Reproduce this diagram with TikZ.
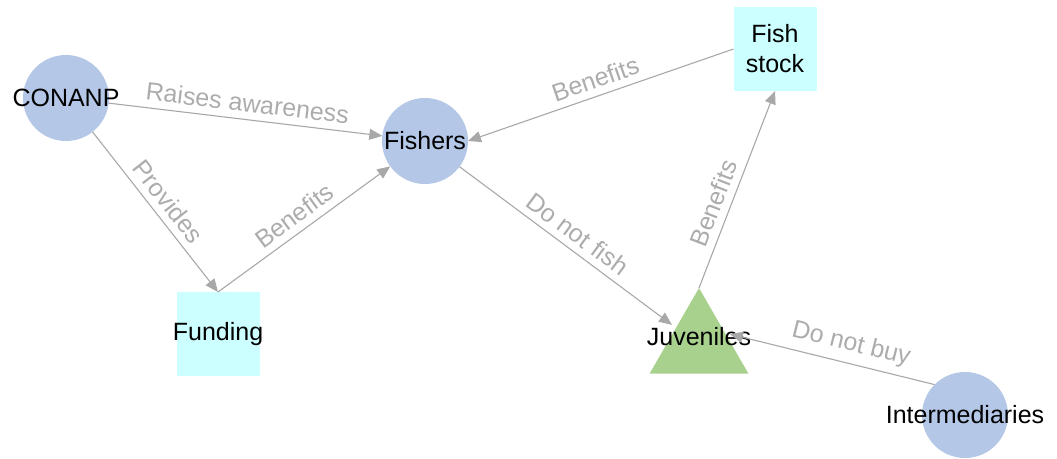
\documentclass[tikz,border=0pt]{standalone}
\usepackage{fontspec}
\setmainfont{Liberation Sans}
\usetikzlibrary{arrows.meta,shapes.geometric}
\definecolor{nodeblue}{RGB}{180,199,231}
\definecolor{boxcyan}{RGB}{204,255,255}
\definecolor{trigreen}{RGB}{169,209,142}
\definecolor{edgegray}{RGB}{168,168,168}
\definecolor{labelgray}{RGB}{172,172,172}
\begin{document}
\begin{tikzpicture}[x=1pt,y=-1pt,
  txt/.style={font=\fontsize{25}{30}\selectfont, text=black, inner sep=0pt, align=center},
  circnode/.style={circle, fill=nodeblue, minimum size=86pt, inner sep=0pt, outer sep=0pt},
  boxnode/.style={rectangle, fill=boxcyan, minimum width=83pt, minimum height=84pt, inner sep=0pt, outer sep=0pt},
  trinode/.style={regular polygon, regular polygon sides=3, fill=trigreen, minimum size=114pt, inner sep=0pt, outer sep=0pt},
  link/.style={draw=edgegray, line width=1.1pt, -{Triangle[length=13pt,width=11pt]}},
  elabel/.style={font=\fontsize{25}{30}\selectfont, text=labelgray, sloped, above, inner sep=7pt}]
\useasboundingbox (0,0) rectangle (1057,458);
\node[circnode, label={[txt]center:CONANP}] (conanp) at (66,98) {};
\node[circnode, label={[txt]center:Fishers}] (fishers) at (425,141) {};
\node[boxnode, label={[txt]center:Funding}] (funding) at (218,334) {};
\node[boxnode, label={[txt]center:Fish\\stock}] (stock) at (775,49) {};
\node[trinode, label={[txt,yshift=8pt]center:Juveniles}] (juv) at (699,345) {};
\node[circnode, label={[txt]center:Intermediaries}] (inter) at (965,415) {};

\draw[link] (conanp) -- node[elabel]{Raises awareness} (fishers);
\draw[link] (conanp) -- node[elabel]{Provides} (funding.north);
\draw[link] (funding.north) -- node[elabel]{Benefits} (fishers);
\draw[link] (stock.west) -- node[elabel]{Benefits} (fishers.east);
\draw[link, shorten >=5pt] (fishers) -- node[elabel]{Do not fish} (juv);
\draw[link] (juv.north) -- node[elabel, pos=0.4]{Benefits} (stock.south);
\draw[link, shorten >=5pt] (inter.north west) -- node[elabel, pos=0.42]{Do not buy} (juv.25);
\end{tikzpicture}
\end{document}
